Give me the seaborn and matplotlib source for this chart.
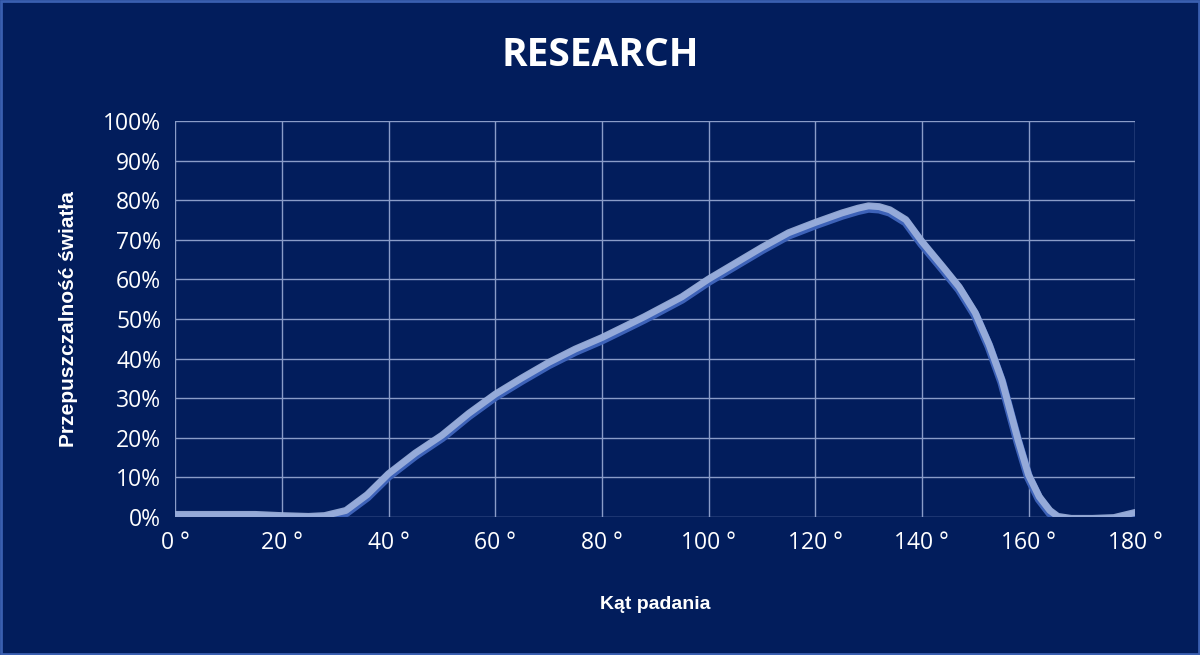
import seaborn as sns
import pandas as pd
import matplotlib.pyplot as plt
from matplotlib.ticker import FuncFormatter

angles = [0, 5, 10, 15, 20, 25, 28, 32, 36, 40, 45, 50, 55, 60, 65, 70, 75, 80, 85, 88,
          95, 100, 105, 110, 115, 120, 125, 128, 130, 132, 134, 137, 140, 144, 147, 150,
          152.6, 155, 158, 160, 162, 164, 165.5, 168, 172, 176, 180]
transmission = [0, 0, 0, 0, -0.3, -0.5, -0.3, 1, 5, 10.3, 15.5, 20, 25.5, 30.4, 34.5, 38.4,
                41.8, 44.7, 48, 50, 55, 59.5, 63.5, 67.5, 71.2, 73.8, 76.2, 77.4, 78, 77.8,
                77, 74.5, 69, 62.5, 57.5, 51, 43, 34, 19, 10, 4.5, 1, -0.5, -1, -1, -0.8, 0.5]

data = pd.DataFrame({"angle": angles, "value": transmission})

bg = "#021d5c"
sns.set_style("white")
plt.rcParams["font.family"] = ["Open Sans", "DejaVu Sans"]

fig = plt.figure(figsize=(12, 6.55), dpi=100, facecolor=bg)
fig.patches.append(plt.Rectangle((0.001, 0.002), 0.998, 0.996, transform=fig.transFigure,
                                 fill=False, edgecolor="#3a5fb0", linewidth=2))
ax = fig.add_axes([0.146, 0.211, 0.8, 0.604])
ax.set_facecolor(bg)

sns.lineplot(data=data, x="angle", y="value", ax=ax, color="#3d62b8", linewidth=6.5,
             solid_capstyle="round", solid_joinstyle="round", zorder=3)
sns.lineplot(data=data.assign(value=data["value"] + 0.6), x="angle", y="value", ax=ax,
             color="#9fb3dd", linewidth=5, alpha=0.9, solid_capstyle="round",
             solid_joinstyle="round", zorder=4)

ax.set_xlim(0, 180)
ax.set_ylim(0, 100)
ax.set_xticks(range(0, 181, 20))
ax.set_yticks(range(0, 101, 10))
ax.xaxis.set_major_formatter(FuncFormatter(lambda v, p: f"{int(v)} °"))
ax.yaxis.set_major_formatter(FuncFormatter(lambda v, p: f"{int(v)}%"))
ax.grid(True, color="#8a9cc8", linewidth=1)
ax.set_axisbelow(True)
for s in ax.spines.values():
    s.set_visible(False)
ax.tick_params(colors="white", labelsize=16.5, length=0, pad=10)

ax.set_xlabel("Kąt padania", color="white", fontsize=14, fontweight="bold",
              family=["Liberation Sans", "DejaVu Sans"], labelpad=30)
ax.set_ylabel("Przepuszczalność światła", color="white", fontsize=15, fontweight="bold",
              family=["Liberation Sans", "DejaVu Sans"], labelpad=18)
fig.text(0.5, 0.915, "RESEARCH", color="white", fontsize=28,
         fontweight="bold", ha="center", va="center")

fig.savefig("out.png", facecolor=bg)
